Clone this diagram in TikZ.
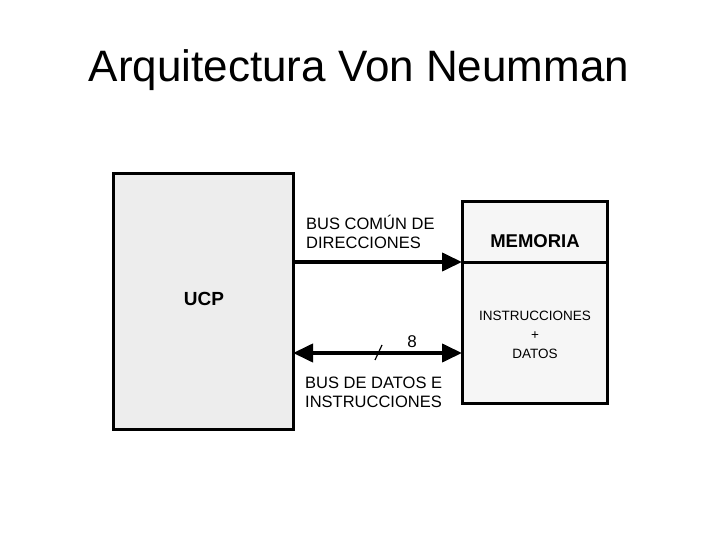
\documentclass[tikz,border=0pt]{standalone}
\usepackage{fontspec}
\setmainfont{Liberation Sans}
\usetikzlibrary{arrows.meta}
\begin{document}
\begin{tikzpicture}[x=1pt,y=-1pt,
  blk/.style={draw=black,line width=3pt},
  bus/.style={line width=4pt},
  lbl/.style={align=left,inner sep=0pt}]
\useasboundingbox (0,0) rectangle (720,540);
\node[font=\fontsize{44}{50}\selectfont] (title) at (359,70) {Arquitectura Von Neumman};
% UCP
\draw[blk,fill=gray!14] (113,174) rectangle (293,429);
\node[font=\bfseries\fontsize{19}{22}\selectfont] (ucp) at (204,299) {UCP};
% Memory
\draw[blk,fill=gray!7] (462,202) rectangle (607,403);
\draw[blk] (462,262) -- (607,262);
\node[font=\bfseries\fontsize{18.5}{22}\selectfont] (mem) at (535,241) {MEMORIA};
\node[lbl,align=center,font=\fontsize{13.5}{19}\selectfont] (cont) at (535,335) {INSTRUCCIONES\\+\\DATOS};
\coordinate (a1) at (293,262);
\coordinate (a2) at (462,262);
\coordinate (b1) at (293,353);
\coordinate (b2) at (462,353);
\draw[bus,-{Triangle[length=20pt,width=18pt]}] (a1) -- (a2);
\draw[bus,{Triangle[length=20pt,width=18pt]}-{Triangle[length=20pt,width=18pt]}] (b1) -- (b2);
\draw[line width=1.2pt] (375,360) -- (382,345);
\node[font=\fontsize{17}{20}\selectfont] (eight) at (412,342) {8};
\node[lbl,anchor=north west,font=\fontsize{16.5}{19}\selectfont] (l1) at (306,215) {BUS COMÚN DE\\DIRECCIONES};
\node[lbl,anchor=north west,font=\fontsize{16.5}{19}\selectfont] (l2) at (305,377) {BUS DE DATOS E\\INSTRUCCIONES};
\end{tikzpicture}
\end{document}
